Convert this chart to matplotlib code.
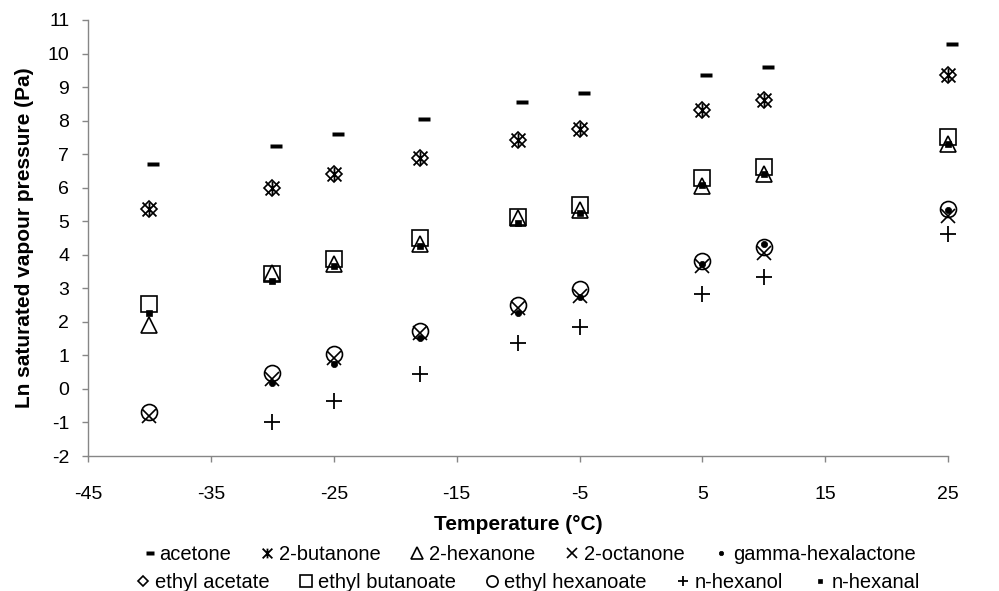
import numpy as np
import matplotlib.pyplot as plt
from matplotlib.path import Path

plt.rcParams['font.family'] = ['Liberation Sans', 'DejaVu Sans']
plt.rcParams['axes.unicode_minus'] = False

temps = [-40, -30, -25, -18, -10, -5, 5, 10, 25]

acetone = [6.71, 7.24, 7.60, 8.05, 8.56, 8.82, 9.36, 9.60, 10.29]
butanone = [5.37, 6.00, 6.41, 6.89, 7.42, 7.75, 8.32, 8.62, 9.36]
hexanone = [1.91, 3.45, 3.72, 4.32, 5.10, 5.34, 6.05, 6.41, 7.30]
octanone = [-0.80, 0.30, 0.92, 1.67, 2.42, 2.77, 3.67, 4.05, 5.16]
hexalactone = [np.nan, 0.18, 0.75, 1.52, 2.27, 2.74, 3.72, 4.32, 5.33]
ethyl_acetate = [5.37, 6.00, 6.41, 6.89, 7.42, 7.75, 8.32, 8.62, 9.36]
ethyl_butanoate = [2.53, 3.43, 3.87, 4.50, 5.13, 5.49, 6.29, 6.62, 7.51]
ethyl_hexanoate = [-0.69, 0.48, 1.04, 1.73, 2.50, 2.98, 3.82, 4.23, 5.37]
hexanol = [np.nan, -0.98, -0.36, 0.45, 1.37, 1.85, 2.83, 3.34, 4.62]
hexanal = [2.27, 3.22, 3.67, 4.26, 4.95, 5.25, 6.08, 6.40, 7.30]

# dash marker (sits a little right of centre) and asterisk marker
dash = Path([(-0.16, -0.24), (1.0, -0.24), (1.0, 0.24), (-0.16, 0.24), (-0.16, -0.24)],
            [Path.MOVETO, Path.LINETO, Path.LINETO, Path.LINETO, Path.CLOSEPOLY])
star = Path([(-1, -1), (1, 1), (-1, 1), (1, -1), (0, -1), (0, 1)],
            [Path.MOVETO, Path.LINETO, Path.MOVETO, Path.LINETO, Path.MOVETO, Path.LINETO])

series = [
    ('acetone', acetone, dict(marker=dash, ms=13.7, mfc='black', mec='none')),
    ('2-butanone', butanone, dict(marker=star, ms=10, mfc='none', mec='black', mew=1.3)),
    ('2-hexanone', hexanone, dict(marker='^', ms=12, mfc='none', mec='black', mew=1.2)),
    ('2-octanone', octanone, dict(marker='x', ms=10, mfc='none', mec='black', mew=1.2)),
    ('gamma-hexalactone', hexalactone, dict(marker='o', ms=4.5, mfc='black', mec='black', mew=0.5)),
    ('ethyl acetate', ethyl_acetate, dict(marker='D', ms=8, mfc='none', mec='black', mew=1.2)),
    ('ethyl butanoate', ethyl_butanoate, dict(marker='s', ms=11.5, mfc='none', mec='black', mew=1.2)),
    ('ethyl hexanoate', ethyl_hexanoate, dict(marker='o', ms=11.5, mfc='none', mec='black', mew=1.2)),
    ('n-hexanol', hexanol, dict(marker='+', ms=11, mfc='none', mec='black', mew=1.3)),
    ('n-hexanal', hexanal, dict(marker='s', ms=4.5, mfc='black', mec='black', mew=0.5)),
]

fig = plt.figure(figsize=(9.99, 5.91), dpi=100)
ax = fig.add_axes([0.0881, 0.2284, 0.861, 0.7378])

handles = []
for name, vals, style in series:
    h, = ax.plot(temps, vals, linestyle='none', label=name, clip_on=False, **style)
    handles.append(h)

ax.set_xlim(-45, 25)
ax.set_ylim(-2, 11)
ax.set_xticks(np.arange(-45, 26, 10))
ax.set_yticks(np.arange(-2, 12, 1))

for side in ['top', 'right']:
    ax.spines[side].set_visible(False)
for side in ['left', 'bottom']:
    ax.spines[side].set_color('#868686')
    ax.spines[side].set_linewidth(1.0)
ax.tick_params(axis='both', direction='out', length=4.5, width=1.0, color='#868686',
               labelsize=14, labelcolor='black')
ax.tick_params(axis='y', pad=9)
ax.tick_params(axis='x', pad=17)

ax.set_xlabel('Temperature (°C)', fontsize=15, fontweight='bold', labelpad=9)
ax.set_ylabel('Ln saturated vapour pressure (Pa)', fontsize=15, fontweight='bold', labelpad=10)

leg_kw = dict(ncol=5, frameon=False, fontsize=14.5, markerscale=0.7, handlelength=0.8,
              handletextpad=0.2, columnspacing=1.4, borderpad=0, loc='center')
fig.legend(handles=handles[:5], bbox_to_anchor=(0.528, 1 - 555 / 591), **leg_kw)
fig.legend(handles=handles[5:], bbox_to_anchor=(0.528, 1 - 583 / 591), **leg_kw)

fig.savefig('out.png', dpi=100)
